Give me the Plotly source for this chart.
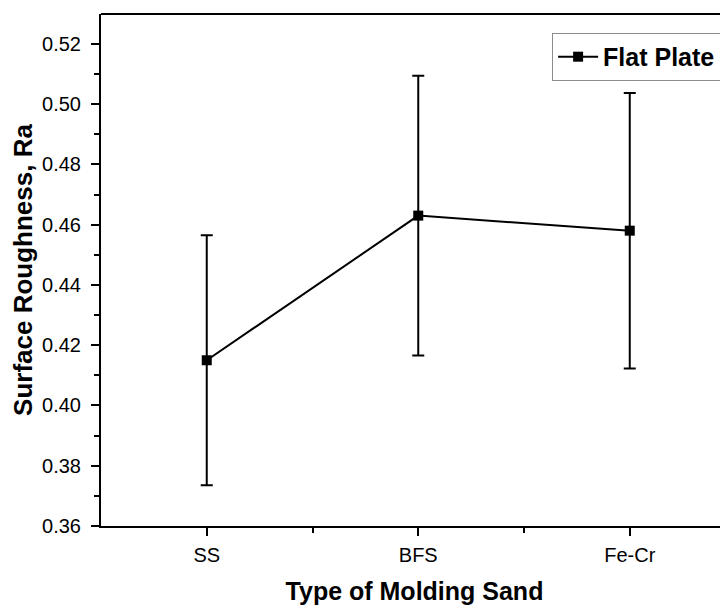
import plotly.graph_objects as go

categories = ["SS", "BFS", "Fe-Cr"]
ra_values = [0.415, 0.463, 0.458]
ra_errors = [0.0415, 0.0464, 0.0457]
y_ticks = [0.36, 0.38, 0.40, 0.42, 0.44, 0.46, 0.48, 0.50, 0.52]

x_pos = list(range(1, len(categories) + 1))

fig = go.Figure()
fig.add_trace(go.Scatter(
    x=x_pos, y=ra_values, mode="lines+markers", name="Flat Plate",
    line=dict(color="black", width=2),
    marker=dict(symbol="square", size=10, color="black"),
    error_y=dict(type="data", array=ra_errors, visible=True,
                 color="black", thickness=2, width=6),
))

font_family = "Liberation Sans, Arial, sans-serif"
# the page body has an 8px default margin, so the figure is sized/offset to compensate
fig.update_layout(
    width=720, height=597,
    margin=dict(l=93, r=0, t=6, b=79),
    paper_bgcolor="white", plot_bgcolor="white",
    font=dict(family=font_family, color="black", size=20),
    showlegend=True,
    legend=dict(x=0.989, y=0.963, xanchor="right", yanchor="top",
                bgcolor="white", bordercolor="#8c8c8c", borderwidth=1,
                font=dict(size=25, family=font_family, weight="bold"),
                itemwidth=40, tracegroupgap=0),
    xaxis=dict(
        range=[0.5, 3.4645], tickmode="array", tickvals=x_pos, ticktext=categories,
        showgrid=False, zeroline=False, showline=True, linecolor="black", linewidth=2,
        ticks="outside", ticklen=8, tickwidth=1.5, tickcolor="black",
        minor=dict(tickvals=[1.5, 2.5], ticks="outside", ticklen=5, tickwidth=1.5, tickcolor="black"),
        tickfont=dict(size=20), ticklabelstandoff=2,
        title=dict(text="Type of Molding Sand", font=dict(size=25, weight="bold"), standoff=17),
    ),
    yaxis=dict(
        range=[0.36, 0.5299], tickmode="array", tickvals=y_ticks,
        ticktext=[f"{v:.2f}" for v in y_ticks],
        showgrid=False, zeroline=False, showline=True, linecolor="black", linewidth=2,
        ticks="outside", ticklen=8, tickwidth=1.5, tickcolor="black",
        minor=dict(dtick=0.01, tick0=0.36, ticks="outside", ticklen=5, tickwidth=1.5, tickcolor="black"),
        tickfont=dict(size=20), ticklabelstandoff=6,
        title=dict(text="Surface Roughness, Ra", font=dict(size=26, weight="bold"), standoff=6),
    ),
    shapes=[dict(type="line", xref="paper", yref="paper", x0=0, x1=1, y0=1, y1=1,
                 line=dict(color="black", width=2))],
)

fig.write_html("out.html")
